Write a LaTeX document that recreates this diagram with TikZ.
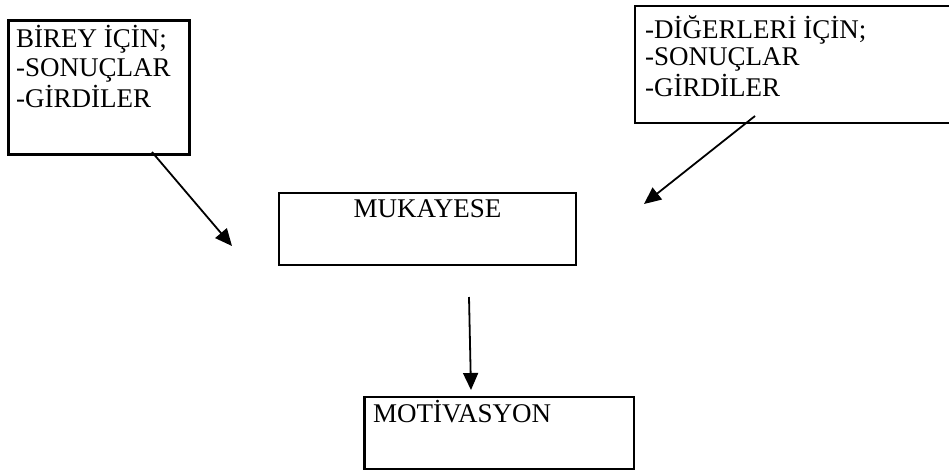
\documentclass[tikz,border=0pt]{standalone}
\usepackage{fontspec}
\setmainfont{Liberation Serif}
\usetikzlibrary{arrows.meta}
\begin{document}
\begin{tikzpicture}[x=1pt,y=-1pt,
  boxline/.style={draw,line width=2.4pt},
  lbl/.style={inner sep=0pt,font=\fontsize{27}{29.5}\selectfont},
  conn/.style={line width=1.8pt,-{Triangle[length=17pt,width=15pt]}}]
\clip (0,0) rectangle (949,472);
\fill[white] (0,0) rectangle (949,472);
% boxes
\draw[boxline] (8.5,20.5) rectangle (189.5,154.5);
\draw[boxline] (635,6) rectangle (960,123);
\draw[boxline] (279,193) rectangle (576,265);
\draw[boxline] (364.5,397) rectangle (634,469);
% texts
\node[lbl,anchor=base west] (birey) at (16,47)
  {\begin{tabular}[t]{@{}l@{}}B\.IREY \.IÇ\.IN;\\-SONUÇLAR\\-G\.IRD\.ILER\end{tabular}};
\node[lbl,anchor=base west] (diger) at (645,38)
  {\fontsize{27}{27.5}\selectfont\begin{tabular}[t]{@{}l@{}}-D\.IĞERLER\.I \.IÇ\.IN;\\-SONUÇLAR\\-G\.IRD\.ILER\end{tabular}};
\node[lbl,anchor=base] (muk) at (427.5,217) {MUKAYESE};
\node[lbl,anchor=base west] (mot) at (373,422) {MOT\.IVASYON};
% connectors
\coordinate (a1s) at (152,152);
\coordinate (a1e) at (232,246);
\coordinate (a2s) at (755,116);
\coordinate (a2e) at (644,204);
\coordinate (a3s) at (469,297);
\coordinate (a3e) at (471,390);
\draw[conn] (a1s) -- (a1e);
\draw[conn] (a2s) -- (a2e);
\draw[conn] (a3s) -- (a3e);
\end{tikzpicture}
\end{document}
